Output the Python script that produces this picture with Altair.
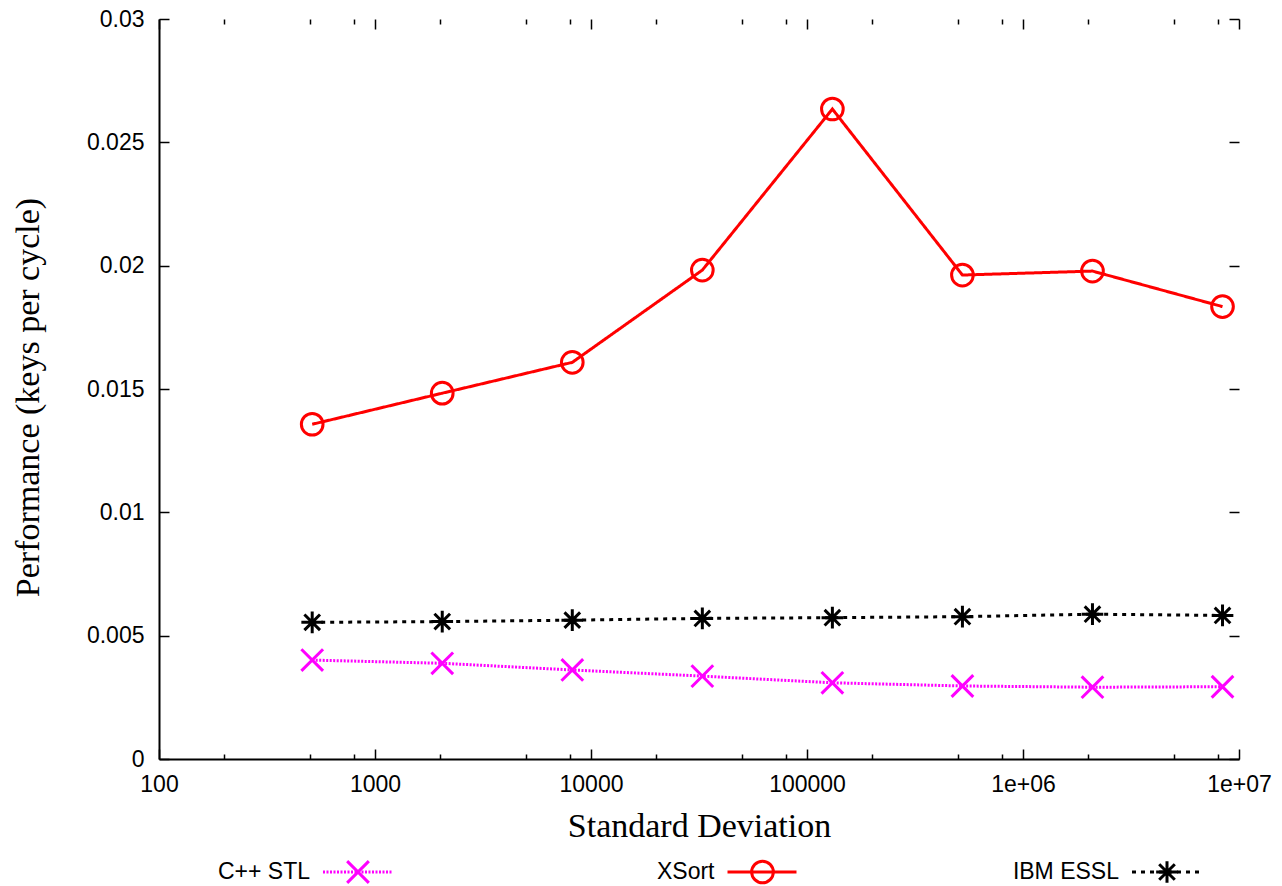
import altair as alt
import pandas as pd

# ---- data ----
SERIES = ["C++ STL", "XSort", "IBM ESSL"]
STD_DEV = [512, 2048, 8192, 32768, 131072, 524288, 2097152, 8388608]
STL = [0.00401, 0.00388, 0.00361, 0.00336, 0.00309, 0.00296, 0.00291, 0.00293]
XSORT = [0.01357, 0.01483, 0.01608, 0.01982, 0.02635, 0.01962, 0.01978, 0.01834]
ESSL = [0.00554, 0.00557, 0.00563, 0.00570, 0.00573, 0.00577, 0.00587, 0.00582]

X_MAJOR = [100, 1000, 10000, 100000, 1000000, 10000000]
X_LABELS = ["100", "1000", "10000", "100000", "1e+06", "1e+07"]
X_MINOR = [200, 500, 800, 2000, 5000, 8000, 20000, 50000, 80000,
           200000, 500000, 800000, 2000000, 5000000, 8000000]
Y_TICKS = [0, 0.005, 0.01, 0.015, 0.02, 0.025, 0.03]

COLORS = ["#ff00ff", "#ff0000", "#000000"]
SHAPES = ["M-1,-1L1,1M-1,1L1,-1", "circle",
          "M-1,0L1,0M0,-1L0,1M-0.72,-0.72L0.72,0.72M-0.72,0.72L0.72,-0.72"]
DASHES = [[2, 1.5], [1, 0], [4, 5]]

W, H = 1080, 740

rows = []
for name, vals in zip(SERIES, [STL, XSORT, ESSL]):
    for x, v in zip(STD_DEV, vals):
        rows.append({"series": name, "sd": x, "perf": v})
df = pd.DataFrame(rows)
leg = pd.DataFrame({"series": SERIES})

SANS = "Liberation Sans"
SERIF = "Liberation Serif"

def xscale():
    return alt.Scale(type="log", domain=[100, 10000000], nice=False)

def yscale():
    return alt.Scale(domain=[0, 0.03], nice=False, zero=False)

color = alt.Color("series:N", scale=alt.Scale(domain=SERIES, range=COLORS), legend=None)
shape = alt.Shape("series:N", scale=alt.Scale(domain=SERIES, range=SHAPES), legend=None)
dash = alt.StrokeDash("series:N", scale=alt.Scale(domain=SERIES, range=DASHES), legend=None)

label_expr = "[" + ",".join("'%s'" % s for s in X_LABELS) + "][round(log(datum.value)/LN10)-2]"

lines = alt.Chart(df).mark_line(strokeWidth=3).encode(
    x=alt.X("sd:Q", scale=xscale(), axis=alt.Axis(
        values=X_MAJOR, labelExpr=label_expr, ticks=False, tickSize=0, grid=False,
        domain=True, domainColor="black", domainWidth=2,
        labelFont=SANS, labelFontSize=23, labelColor="black", labelPadding=14,
        labelFlush=False, labelOverlap=False,
        title="Standard Deviation", titleFont=SERIF, titleFontSize=34,
        titleFontWeight="normal", titleColor="black", titleY=77,
        titleBaseline="alphabetic")),
    y=alt.Y("perf:Q", scale=yscale(), axis=alt.Axis(
        values=Y_TICKS, format="~g", ticks=False, tickSize=0, grid=False,
        domain=True, domainColor="black", domainWidth=2,
        labelFont=SANS, labelFontSize=23, labelColor="black", labelPadding=15,
        labelOverlap=False, labelFlush=False,
        title="Performance (keys per cycle)", titleFont=SERIF, titleFontSize=34,
        titleFontWeight="normal", titleColor="black", titleAngle=270,
        titleX=-131, titleY=378, titleAlign="center", titleBaseline="middle")),
    color=color, strokeDash=dash, detail="series:N",
)

points = alt.Chart(df).mark_point(filled=False, strokeWidth=3, size=470, opacity=1).encode(
    x=alt.X("sd:Q", scale=xscale(), axis=None),
    y=alt.Y("perf:Q", scale=yscale(), axis=None),
    color=color, shape=shape,
)

def tick_layer(x_orient, x_values, x_size, y_orient=None):
    xa = alt.Axis(orient=x_orient, offset=-H, values=x_values, tickSize=x_size,
                  tickWidth=1.5, tickColor="black", labels=False, domain=False,
                  grid=False, title=None)
    if y_orient:
        ya = alt.Axis(orient=y_orient, offset=-W, values=Y_TICKS, tickSize=10,
                      tickWidth=1.5, tickColor="black", labels=False, domain=False,
                      grid=False, title=None)
    else:
        ya = None
    return alt.Chart(df).mark_point(opacity=0).encode(
        x=alt.X("sd:Q", scale=xscale(), axis=xa),
        y=alt.Y("perf:Q", scale=yscale(), axis=ya),
    )

tA = tick_layer("top", X_MAJOR, 10, "right")     # bottom edge ticks up, left edge ticks right
tB = tick_layer("top", X_MINOR, 5)
tC = tick_layer("bottom", X_MAJOR, 10, "left")   # top edge ticks down, right edge ticks left
tD = tick_layer("bottom", X_MINOR, 5)

LEG_Y = 853
legx = alt.X("series:N", scale=alt.Scale(type="point", domain=SERIES, range=[199, 1008], padding=0), axis=None)
legx2 = alt.X2("series:N")

leg_text = alt.Chart(leg).mark_text(align="right", baseline="middle", dx=-48,
                                    font=SANS, fontSize=23, color="black").encode(
    x=legx, y=alt.value(LEG_Y), text="series:N")
leg_rule = alt.Chart(leg).mark_rule(strokeWidth=3, xOffset=-35, x2Offset=34).encode(
    x=legx, x2=legx2, y=alt.value(LEG_Y), color=color, strokeDash=dash)
leg_pts = alt.Chart(leg).mark_point(filled=False, strokeWidth=3, size=470, opacity=1).encode(
    x=legx, y=alt.value(LEG_Y), color=color, shape=shape)

chart = alt.layer(lines, points, tA, tB, tC, tD, leg_rule, leg_pts, leg_text).resolve_scale(
    x="independent", y="independent"
).properties(
    width=W, height=H,
    autosize=alt.AutoSizeParams(type="none"),
    padding={"left": 151, "top": 11, "right": 35, "bottom": 130},
).configure_view(stroke=None)

chart.save("out.html", embed_options={"renderer": "svg", "actions": False})
